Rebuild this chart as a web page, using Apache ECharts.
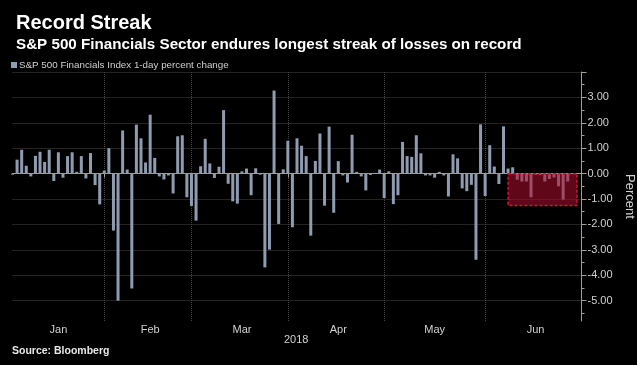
<!DOCTYPE html>
<html>
<head>
<meta charset="utf-8">
<script src="https://cdn.jsdelivr.net/npm/echarts@6/dist/echarts.min.js"></script>
<style>
html,body{margin:0;padding:0;background:#000;}
#chart{width:637px;height:365px;}
</style>
</head>
<body>
<div id="chart"></div>
<script>
// Trading days per month (2018)
const janDays = [2,3,4,5,8,9,10,11,12,16,17,18,19,22,23,24,25,26,29,30,31];
const febDays = [1,2,5,6,7,8,9,12,13,14,15,16,20,21,22,23,26,27,28];
const marDays = [1,2,5,6,7,8,9,12,13,14,15,16,19,20,21,22,23,26,27,28,29];
const aprDays = [2,3,4,5,6,9,10,11,12,13,16,17,18,19,20,23,24,25,26,27,30];
const mayDays = [1,2,3,4,7,8,9,10,11,14,15,16,17,18,21,22,23,24,25,29,30,31];
const junDays = [1,4,5,6,7,8,11,12,13,14,15,18,19,20,21,22,25,26,27,28,29];

// S&P 500 Financials Index 1-day percent change
const janVals = [-0.04,0.55,0.94,0.31,-0.11,0.70,0.86,0.46,0.94,-0.29,0.84,-0.16,0.69,0.84,0.07,0.69,-0.19,0.81,-0.45,-1.21,0.12];
const febVals = [1.00,-2.24,-5.00,1.70,0.16,-4.52,1.93,1.39,0.44,2.32,0.62,-0.11,-0.23,-0.07,-0.78,1.47,1.51,-0.93,-1.27];
const marVals = [-1.85,0.29,1.37,0.40,-0.17,0.27,2.50,-0.40,-1.09,-1.18,0.09,0.20,-0.85,0.21,-0.04,-3.69,-2.99,3.27,-1.98,0.17,1.29];
const aprVals = [-2.11,1.39,1.10,0.69,-2.44,0.50,1.58,-1.26,1.85,-1.54,0.49,-0.07,-0.35,1.53,0.07,-0.11,-0.66,-0.05,0.03,0.16,-0.96];
const mayVals = [0.09,-1.20,-0.85,1.25,0.69,0.66,1.51,0.80,-0.07,-0.07,-0.16,0.07,-0.07,-0.90,0.76,0.60,-0.58,-0.69,-0.44,-3.39,1.94,-0.88];
const junVals = [1.12,0.28,-0.41,1.86,0.20,0.25,-0.24,-0.31,-0.31,-0.93,-0.04,-0.06,-0.31,-0.21,-0.15,-0.50,-1.02,-0.31,null,null,null];

const monthNames = ['Jan','Feb','Mar','Apr','May','Jun'];
const yTickValues = [-5,-4,-3,-2,-1,0,1,2,3,4];
const yLabelValues = [-5,-4,-3,-2,-1,0,1,2,3];
const yMinorValues = [-5.5,-4.5,-3.5,-2.5,-1.5,-0.5,0.5,1.5,2.5,3.5];
const streakStart = '2018-06-07';
const streakEnd = '2018-06-28';
const streakBoxTop = 0;
const streakBoxBottom = -1.25;

const monthDays = [janDays,febDays,marDays,aprDays,mayDays,junDays];
const monthVals = [janVals,febVals,marVals,aprVals,mayVals,junVals];
const pad = n => (n < 10 ? '0' : '') + n;
const dates = [];
const values = [];
const monthEndIdx = [];
const monthMidIdx = {};
monthDays.forEach((days, m) => {
  const start = dates.length;
  days.forEach((d, i) => {
    dates.push('2018-' + pad(m + 1) + '-' + pad(d));
    values.push(monthVals[m][i]);
  });
  monthEndIdx.push(dates.length - 1);
  monthMidIdx[Math.floor((start + dates.length - 1) / 2)] = monthNames[m];
});

const chart = echarts.init(document.getElementById('chart'));
const FONT = 'Liberation Sans, Arial, sans-serif';
const AXIS = '#a49d8f';
const GRIDC = '#4a4540';
const Y_MIN = -5.8, Y_MAX = 4;
chart.setOption({
  backgroundColor: '#000',
  animation: false,
  title: [
    { text: 'Record Streak', left: 11, top: 8,
      textStyle: { color: '#fff', fontSize: 20, fontWeight: 'bold', fontFamily: FONT } },
    { text: 'S&P 500 Financials Sector endures longest streak of losses on record', left: 11, top: 32,
      textStyle: { color: '#fff', fontSize: 15.2, fontWeight: 'bold', fontFamily: FONT } }
  ],
  legend: {
    left: 6, top: 55, icon: 'rect', itemWidth: 6, itemHeight: 6, itemGap: 4,
    textStyle: { color: '#d0d0d0', fontSize: 9.8, fontFamily: FONT, padding: [0,0,0,-3] },
    data: ['S&P 500 Financials Index 1-day percent change']
  },
  grid: { left: 12.5, right: 55.5, top: 72, bottom: 44, containLabel: false, outerBoundsMode: 'none' },
  xAxis: {
    type: 'category', data: dates, boundaryGap: false,
    axisLine: { lineStyle: { color: AXIS, width: 1 } },
    axisTick: { show: true, length: 4, interval: (i) => monthEndIdx.indexOf(i) >= 0,
      lineStyle: { color: AXIS } },
    axisLabel: { interval: (i) => monthMidIdx[i] !== undefined,
      formatter: (v, i) => monthMidIdx[i] || '',
      color: '#d0d0d0', fontSize: 11, fontFamily: FONT, margin: 3 },
    splitLine: { show: true, interval: (i) => monthEndIdx.indexOf(i) >= 0 && i < dates.length - 1,
      lineStyle: { color: GRIDC, type: 'dotted', width: 1 } }
  },
  yAxis: [{
    type: 'value', position: 'right', min: Y_MIN, max: Y_MAX,
    name: 'Percent', nameLocation: 'middle', nameRotate: -90, nameGap: 39,
    nameTextStyle: { color: '#d0d0d0', fontSize: 13, fontFamily: FONT },
    axisLine: { show: true, lineStyle: { color: AXIS } },
    axisTick: { show: true, length: 5, customValues: yTickValues, lineStyle: { color: AXIS } },
    axisLabel: { color: '#d0d0d0', fontSize: 11, fontFamily: FONT, margin: 6,
      customValues: yLabelValues, formatter: (v) => v.toFixed(2) },
    splitLine: { show: true, lineStyle: { color: GRIDC, type: 'dotted', width: 1 } }
  }, {
    type: 'value', position: 'right', min: Y_MIN, max: Y_MAX, offset: 0,
    axisLine: { show: false },
    axisTick: { show: true, length: 3, customValues: yMinorValues, lineStyle: { color: AXIS } },
    axisLabel: { show: false },
    splitLine: { show: false }
  }],
  series: [{
    name: 'S&P 500 Financials Index 1-day percent change',
    type: 'bar', data: values, barWidth: 3, yAxisIndex: 0,
    itemStyle: { color: '#8f9bb0' }
  }]
});
// Highlight box for the losing streak, positioned through the chart's own scales
const x1 = chart.convertToPixel({xAxisIndex: 0}, dates.indexOf(streakStart));
const x2 = chart.convertToPixel({xAxisIndex: 0}, dates.indexOf(streakEnd));
const y1 = chart.convertToPixel({yAxisIndex: 0}, streakBoxTop);
const y2 = chart.convertToPixel({yAxisIndex: 0}, streakBoxBottom);
chart.setOption({graphic: [
  { type: 'rect', z: 50, silent: true,
    shape: { x: x1, y: y1, width: x2 - x1, height: y2 - y1 },
    style: { fill: 'rgba(175,15,45,0.55)', stroke: '#d8103c', lineWidth: 1.5, lineDash: [3, 2] } },
  { type: 'text', left: 284, top: 334,
    style: { text: '2018', fill: '#d0d0d0', fontSize: 11, fontFamily: FONT } },
  { type: 'text', left: 12, top: 346,
    style: { text: 'Source: Bloomberg', fill: '#e8e8e8', fontSize: 10.5, fontWeight: 'bold', fontFamily: FONT } }
]});
</script>
</body>
</html>
